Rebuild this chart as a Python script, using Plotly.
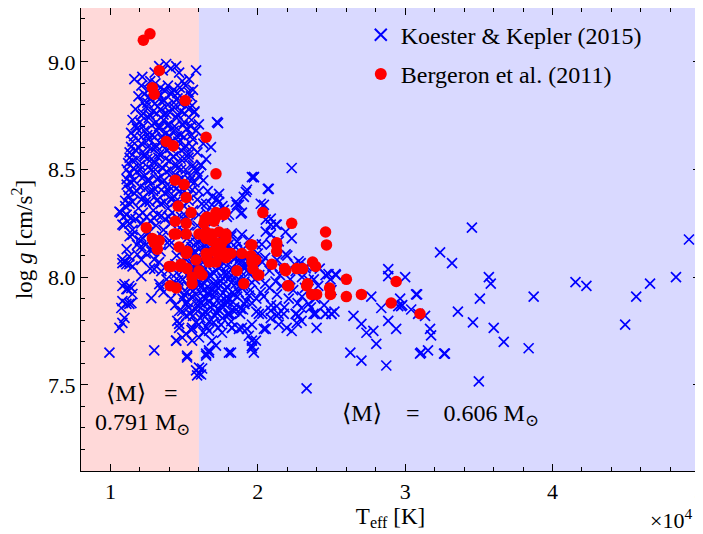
import plotly.graph_objects as go

# ---------------- data (Teff [K], log g) ----------------
# Koester & Kepler (2015) -- column of massive DBs (red zone)
kk_column = [
    (11620, 8.92), (12160, 8.93), (13310, 8.98), (13780, 8.99), (14460, 8.98), (15810, 8.96), (15340, 8.92),
    (14660, 8.95), (14870, 8.91), (13000, 8.95), (13550, 8.96), (14100, 8.97), (12700, 8.91),
    (12100, 8.89), (12550, 8.87), (13050, 8.90), (13400, 8.88), (13900, 8.89), (14300, 8.87), (14700, 8.88),
    (15100, 8.89), (15600, 8.87), (12300, 8.85),
    (11900, 8.84), (12700, 8.83), (13200, 8.84), (13650, 8.82), (14100, 8.85), (14550, 8.83), (15000, 8.82),
    (15450, 8.84), (12200, 8.81), (13900, 8.80),
    (11700, 8.78), (12400, 8.79), (12900, 8.77), (13400, 8.78), (13800, 8.76), (14300, 8.79), (14800, 8.77),
    (15300, 8.78), (15700, 8.77), (12100, 8.75),
    (11500, 8.73), (12000, 8.72), (12600, 8.74), (13100, 8.72), (13600, 8.73), (14000, 8.71), (14500, 8.74),
    (15000, 8.72), (15500, 8.73), (16000, 8.71),
    (11400, 8.67), (11800, 8.69), (12300, 8.68), (12800, 8.66), (13300, 8.69), (13800, 8.67), (14300, 8.68),
    (14750, 8.66), (15200, 8.69), (15800, 8.68),
    (11500, 8.63), (12100, 8.62), (12600, 8.64), (13100, 8.61), (13550, 8.64), (14050, 8.62), (14600, 8.63),
    (15100, 8.61), (15600, 8.64), (16300, 8.62),
    (11300, 8.58), (11700, 8.59), (12300, 8.57), (12800, 8.60), (13300, 8.57), (13800, 8.59), (14300, 8.56),
    (14800, 8.59), (15300, 8.57), (15900, 8.58),
    (11200, 8.53), (11500, 8.54), (12000, 8.52), (12500, 8.55), (13000, 8.53), (13500, 8.51), (14000, 8.54),
    (14500, 8.52), (15000, 8.55), (15600, 8.52), (16150, 8.52),
    (11300, 8.48), (11800, 8.49), (12300, 8.47), (12800, 8.50), (13300, 8.46), (13800, 8.49), (14300, 8.47),
    (14800, 8.50), (15400, 8.47), (15900, 8.49),
    (11100, 8.43), (11400, 8.44), (12000, 8.42), (12500, 8.45), (13000, 8.41), (13500, 8.44), (14000, 8.42),
    (14600, 8.45), (15100, 8.42), (15700, 8.44),
    (11200, 8.38), (11600, 8.39), (12200, 8.37), (12700, 8.40), (13200, 8.36), (13700, 8.39), (14200, 8.37),
    (14700, 8.40), (15300, 8.38), (15900, 8.36),
    (11000, 8.33), (11300, 8.34), (11900, 8.32), (12400, 8.35), (12900, 8.31), (13400, 8.34), (13900, 8.32),
    (14400, 8.35), (15000, 8.33), (15600, 8.31),
    (10700, 8.30), (11100, 8.29), (11700, 8.27), (12200, 8.30), (12700, 8.26), (13200, 8.29), (13700, 8.27),
    (14200, 8.30), (14800, 8.28), (15400, 8.26), (16000, 8.29),
    (10900, 8.24), (11500, 8.22), (12100, 8.25), (12600, 8.21), (13100, 8.24), (13600, 8.22), (14100, 8.25),
    (14700, 8.23), (15300, 8.21), (15900, 8.24),
    (11300, 8.19), (12000, 8.17), (12500, 8.20), (13000, 8.16), (13500, 8.19), (14000, 8.17), (14600, 8.20),
    (15200, 8.18), (15800, 8.16),
    (11100, 8.13), (11800, 8.15), (12400, 8.11), (12900, 8.14), (13400, 8.12), (14000, 8.15), (14500, 8.10),
    (15100, 8.13), (15700, 8.11),
    (11000, 8.07), (11500, 8.05), (12100, 8.08), (12700, 8.04), (13300, 8.07), (13900, 8.03), (14400, 8.06),
    (15000, 8.09), (15600, 8.05),
    (12800, 8.86), (13250, 8.855), (13700, 8.865), (14150, 8.86), (14550, 8.855), (15300, 8.86),
    (12500, 8.81), (13000, 8.805), (13450, 8.815), (14300, 8.81), (14750, 8.805), (15200, 8.80),
    (12200, 8.76), (12650, 8.755), (13150, 8.76), (13600, 8.755), (14050, 8.765), (14550, 8.755), (15050, 8.76),
    (11700, 8.705), (12200, 8.70), (12800, 8.705), (13300, 8.70), (13850, 8.705), (14350, 8.70), (14900, 8.705),
    (15450, 8.70),
    (11600, 8.655), (12100, 8.65), (12500, 8.66), (13000, 8.65), (13500, 8.655), (14000, 8.65), (14500, 8.655),
    (15000, 8.65), (15500, 8.66),
    (11400, 8.605), (11950, 8.60), (12550, 8.605), (13050, 8.60), (13550, 8.61), (14050, 8.60), (14550, 8.605),
    (15050, 8.60), (15550, 8.605),
    (11300, 8.555), (11800, 8.55), (12300, 8.56), (12800, 8.55), (13250, 8.555), (13750, 8.55), (14250, 8.56),
    (14750, 8.55), (15300, 8.555),
    (11100, 8.50), (11550, 8.505), (12050, 8.50), (12550, 8.51), (13050, 8.50), (13550, 8.505), (14050, 8.50),
    (14550, 8.505), (15100, 8.50), (15650, 8.505),
    (11100, 8.455), (11600, 8.45), (12150, 8.46), (12650, 8.45), (13150, 8.455), (13650, 8.45), (14250, 8.455),
    (14850, 8.46), (15400, 8.45),
    (11250, 8.405), (11800, 8.40), (12350, 8.41), (12900, 8.40), (13450, 8.405), (13950, 8.40), (14450, 8.41),
    (15000, 8.40), (15550, 8.405),
    (11000, 8.355), (11500, 8.35), (12100, 8.36), (12650, 8.35), (13150, 8.355), (13650, 8.35), (14150, 8.36),
    (14700, 8.35), (15300, 8.355),
    (10900, 8.28), (11400, 8.275), (11950, 8.285), (12450, 8.28), (12950, 8.275), (13450, 8.285), (13950, 8.28),
    (14500, 8.275), (15100, 8.285),
]

# Koester & Kepler (2015) -- main clump around 16000-20000 K
kk_core = [
    (16200, 8.18), (16700, 8.19), (17200, 8.17), (17700, 8.18), (18200, 8.19),
    (15500, 8.14), (16000, 8.13), (16500, 8.15), (17000, 8.14), (17500, 8.13), (18000, 8.15), (18500, 8.14),
    (19000, 8.13),
    (15300, 8.10), (15800, 8.09), (16300, 8.11), (16800, 8.10), (17300, 8.09), (17800, 8.11), (18300, 8.10),
    (18800, 8.09), (19400, 8.10), (20000, 8.11),
    (14800, 8.06), (15500, 8.07), (16000, 8.05), (16500, 8.06), (17000, 8.07), (17500, 8.05), (18000, 8.06),
    (18600, 8.07), (19100, 8.05), (19700, 8.06), (20300, 8.07),
    (14500, 8.02), (15200, 8.01), (15700, 8.03), (16200, 8.02), (16700, 8.01), (17200, 8.03), (17700, 8.02),
    (18200, 8.01), (18800, 8.03), (19400, 8.02), (20100, 8.01), (20800, 8.03),
    (14300, 7.98), (14900, 7.99), (15500, 7.97), (16000, 7.98), (16500, 7.99), (17000, 7.97), (17500, 7.98),
    (18000, 7.99), (18500, 7.97), (19100, 7.98), (19800, 7.99), (20500, 7.97), (21200, 7.98),
    (14600, 7.94), (15200, 7.93), (15800, 7.95), (16300, 7.94), (16800, 7.93), (17300, 7.95), (17800, 7.94),
    (18300, 7.93), (18900, 7.95), (19500, 7.94), (20200, 7.93),
    (14900, 7.90), (15500, 7.91), (16000, 7.89), (16500, 7.90), (17000, 7.91), (17500, 7.89), (18000, 7.90),
    (18600, 7.91), (19200, 7.89), (19900, 7.90),
    (15300, 7.86), (15800, 7.85), (16300, 7.87), (16800, 7.86), (17300, 7.85), (17800, 7.87), (18400, 7.86),
    (19000, 7.85),
    (15600, 7.82), (16100, 7.81), (16600, 7.83), (17100, 7.82), (17600, 7.81), (18100, 7.83),
    (16000, 7.78), (16500, 7.77), (17000, 7.79), (17500, 7.78),
    (16000, 8.16), (16900, 8.16), (17800, 8.155), (15700, 8.12), (16600, 8.125), (17400, 8.115), (18200, 8.12),
    (16100, 8.08), (17100, 8.075), (17900, 8.085), (18900, 8.075), (15600, 8.04), (16400, 8.04), (17300, 8.045),
    (18200, 8.035), (19100, 8.04), (15900, 8.00), (16800, 8.005), (17600, 7.995), (18500, 8.005), (16200, 7.96),
    (17100, 7.965), (17900, 7.955), (18800, 7.96), (15800, 7.92), (16600, 7.925), (17500, 7.915), (18400, 7.92),
    (16100, 7.88), (17000, 7.875), (17900, 7.885), (16400, 7.84), (17400, 7.845), (18400, 7.84),
    (13600, 7.93), (14100, 7.90), (14400, 7.87), (13800, 7.99), (14700, 7.96), (13400, 7.95),
    (15400, 8.165), (16400, 8.145), (17300, 8.155), (18600, 8.165),
    (15100, 8.085), (15900, 8.065), (16700, 8.085), (17600, 8.07), (18500, 8.09), (19300, 8.075),
    (14900, 8.03), (15500, 8.025), (16300, 8.005), (17000, 8.02), (17900, 8.015), (18900, 8.005), (19700, 8.03),
    (14600, 7.985), (15300, 7.955), (15900, 7.97), (16600, 7.955), (17300, 7.97), (18200, 7.975), (19000, 7.96),
    (19600, 7.975),
    (15000, 7.92), (15600, 7.935), (16300, 7.91), (17100, 7.93), (17900, 7.91), (18700, 7.93), (19400, 7.915),
    (15200, 7.885), (15900, 7.87), (16700, 7.885), (17500, 7.87), (18300, 7.885), (19100, 7.875),
    (15400, 7.83), (16300, 7.825), (17200, 7.835), (18000, 7.825), (18800, 7.83),
    (15800, 7.79), (16700, 7.795), (17300, 7.765), (18200, 7.795), (15500, 7.755), (16300, 7.745),
]

# Koester & Kepler (2015) -- hot tail 19500-25500 K
kk_tail = [
    (20500, 8.09), (21300, 8.08), (22000, 8.10), (21000, 8.05), (21700, 8.04), (22500, 8.06), (23300, 8.05),
    (24200, 8.04), (21500, 8.01), (22200, 7.99), (23000, 8.00), (23800, 7.99), (24600, 8.01), (25300, 8.01),
    (20800, 7.95), (21600, 7.96), (22400, 7.94), (23200, 7.95), (24100, 7.96), (25000, 7.94), (20400, 7.91),
    (21300, 7.92), (22100, 7.90), (23000, 7.91), (23900, 7.90), (20900, 7.87), (21800, 7.86), (22700, 7.88),
    (23600, 7.86), (24500, 7.87), (25200, 7.84), (20300, 7.83), (21400, 7.83), (22600, 7.83), (23900, 7.83),
    (24600, 7.83), (25000, 7.83), (19600, 7.88), (19900, 7.84),
]

# Koester & Kepler (2015) -- individual, isolated objects
kk_sparse = [
    (34530, 8.23), (32370, 8.115), (33180, 8.065), (30000, 8.00), (35680, 8.00), (35810, 7.97), (35070, 7.90),
    (30810, 7.92), (29660, 7.90), (29800, 7.87), (30410, 7.85), (31350, 7.82), (33580, 7.84), (31690, 7.76),
    (31760, 7.73), (34600, 7.79), (36010, 7.765), (31010, 7.645), (31550, 7.66), (32700, 7.645), (36690, 7.70),
    (38380, 7.67), (35000, 7.516), (38720, 7.91), (41560, 7.977), (42300, 7.96), (44930, 7.78), (45680, 7.91),
    (46620, 7.97), (48380, 8.00), (49260, 8.175), (23310, 7.484),
    (22300, 8.507), (19730, 8.465), (20680, 8.41), (20410, 8.336),
    (28850, 8.037), (28850, 8.005), (24800, 8.014), (25270, 8.014), (24930, 7.99), (22910, 8.065),
    (27700, 7.91), (28380, 7.857), (29530, 7.866), (30740, 7.92), (29730, 7.866),
    (26490, 7.82), (27030, 7.783), (27370, 7.742), (27840, 7.751), (28040, 7.69), (28850, 7.797), (29390, 7.76),
    (26280, 7.65), (27030, 7.613), (28720, 7.59), (31080, 7.65), (32640, 7.645), (30880, 7.83),
    (21280, 7.866), (21760, 7.83), (22570, 7.83), (22300, 7.75), (22970, 7.797), (23920, 7.83), (24600, 7.83),
    (25000, 7.83), (23990, 7.765), (20410, 7.76), (19600, 7.78), (19870, 7.705), (19600, 7.67),
    (18180, 7.65), (19730, 7.65), (19600, 7.68), (19390, 7.728), (19260, 7.76), (18720, 7.76), (18240, 7.765),
    (18040, 7.83), (18850, 7.853), (20070, 7.83), (20540, 7.76), (20880, 7.845), (20880, 7.81), (21420, 7.78),
    (21280, 7.82), (21960, 7.765), (22640, 7.788), (22770, 7.82), (22970, 7.857), (23450, 7.876),
    (23780, 7.83), (16690, 7.65), (16490, 7.636), (16220, 7.576), (16150, 7.548),
]

# Koester & Kepler (2015) -- lower-left and surroundings of the clump
kk_wings = [
    (9930, 7.65), (12970, 7.66), (15200, 7.627), (16010, 7.58), (15880, 7.544),
    (14460, 7.705), (14870, 7.72), (14660, 7.765), (14530, 7.797), (14870, 7.843), (15140, 7.876),
    (15540, 7.705), (16010, 7.72), (16690, 7.66),
    (10610, 7.765), (10810, 7.788), (10950, 7.811), (10740, 7.857), (11080, 7.876), (11420, 7.88),
    (11490, 7.922), (11150, 7.945), (11420, 7.949), (10950, 7.968), (12090, 8.005), (12770, 7.903),
    (13310, 7.968), (12970, 8.037), (13450, 8.028), (11280, 8.06), (10810, 8.065),
    (10610, 8.304), (11080, 8.29), (10810, 8.244), (11280, 8.249), (11490, 8.198), (12090, 8.189),
    (10810, 8.083), (11280, 8.097), (11080, 8.06), (11820, 8.106), (12090, 8.143), (12430, 8.152),
    (12770, 8.12), (12970, 8.083), (10810, 7.959), (11080, 7.945), (11280, 7.959), (10810, 7.889),
    (11280, 7.876),
    (14660, 7.843), (15140, 7.82), (14460, 7.705), (15200, 7.636), (15810, 7.567), (16010, 7.553),
    (16490, 7.645), (16890, 7.705), (17160, 7.682), (18040, 7.65), (16690, 7.751), (17570, 7.742),
    (18240, 7.765), (18920, 7.765), (19600, 7.705), (14660, 7.783), (15540, 7.765), (15140, 7.737),
    (17230, 8.72), (17300, 8.715), (16820, 8.604), (16490, 8.548), (16150, 8.52), (15810, 8.682),
    (15680, 8.765), (15540, 8.797), (19600, 8.465), (19190, 8.396), (19050, 8.373), (18510, 8.35),
    (18720, 8.336), (17370, 8.387), (17230, 8.364), (16890, 8.336), (18920, 8.30), (20880, 8.272),
    (21220, 8.244), (20540, 8.212), (20880, 8.198), (21890, 8.21), (22300, 8.18),
    (19730, 8.465), (19260, 8.406), (20740, 8.41), (18580, 8.336), (18850, 8.295), (20200, 8.341),
    (20540, 8.267), (20880, 8.244), (21280, 8.244), (16890, 8.373), (17370, 8.35), (16490, 8.341),
    (17700, 8.313), (18040, 8.29), (18240, 8.203), (18920, 8.198), (19390, 8.175), (19870, 8.152),
    (20270, 8.152), (20880, 8.152), (21420, 8.166), (21890, 8.106), (22770, 8.074), (23240, 8.041),
    (22570, 8.028), (23450, 7.986),
    (16300, 8.45), (16600, 8.40), (17600, 8.33), (17900, 8.28), (17000, 8.26), (16500, 8.30),
    (16200, 8.34), (16000, 8.40), (16000, 8.47),
]

# Bergeron et al. (2011)
bergeron = [
    (12230, 9.10), (12680, 9.13), (13310, 8.96), (12840, 8.88), (12970, 8.85), (15070, 8.82), (16490, 8.65),
    (13780, 8.63), (14260, 8.61), (17160, 8.48), (14390, 8.45), (15000, 8.43), (15140, 8.37), (14590, 8.33),
    (15470, 8.30), (17160, 8.30), (17770, 8.30), (20340, 8.30), (22300, 8.25), (12430, 8.23), (14390, 8.26),
    (15140, 8.25), (12840, 8.18), (13310, 8.17), (13180, 8.13), (14320, 8.20), (15140, 8.20), (16420, 8.27),
    (17030, 8.26), (16490, 8.18), (16890, 8.20), (17370, 8.21), (17840, 8.18), (19600, 8.15), (21280, 8.15),
    (24600, 8.21), (24660, 8.15),
    (14460, 8.20), (14660, 8.14), (15140, 8.11), (13990, 8.05), (14050, 7.96), (14460, 7.95), (14730, 8.05),
    (15540, 8.00), (15540, 7.97), (15200, 8.04), (16010, 8.03), (16220, 8.01), (16550, 8.09), (16690, 8.07),
    (17160, 8.07), (17370, 8.11), (17570, 8.12), (17840, 8.09), (18040, 8.11), (16490, 8.21), (17840, 8.20),
    (16890, 8.17), (17160, 8.16), (17570, 8.16), (16350, 8.25), (17160, 8.28), (17700, 8.29), (16550, 8.28),
    (18920, 8.11), (19530, 8.10), (19600, 8.07), (20070, 8.01), (19050, 7.97), (18580, 8.03), (19530, 8.15),
    (20950, 8.06), (21280, 8.16), (21280, 8.12), (21890, 8.03), (22100, 7.96), (22640, 8.04), (23040, 8.04),
    (23380, 7.97), (23650, 7.92), (23990, 7.92), (23720, 8.07), (23920, 8.05), (24870, 7.95), (24930, 7.92),
    (26010, 7.99), (26010, 7.91), (27030, 7.92), (29390, 7.98), (29050, 7.88), (31010, 7.83),
    (18180, 8.11), (17370, 8.13), (20000, 8.01), (19870, 8.08), (19660, 8.04), (21820, 8.04), (22030, 7.96),
    (23310, 7.96), (14120, 8.05), (14800, 8.06), (15810, 8.08), (16490, 8.11), (17030, 8.12), (15200, 8.12),
    (12970, 8.16), (16760, 8.19), (16010, 8.20),
]

x_ticks = [10000, 20000, 30000, 40000, 50000]
x_tick_labels = ["1", "2", "3", "4", "5"]
y_ticks = [7.5, 8.0, 8.5, 9.0]
y_tick_labels = ["7.5", "8.0", "8.5", "9.0"]
mass_boundary = 16000
x_range = [8000, 50010]
y_range = [7.1, 9.25]

# ---------------- figure ----------------
FONT = "Liberation Serif, DejaVu Serif, serif"
NB = "\u00a0"

kk_all = kk_column + kk_core + kk_tail + kk_sparse + kk_wings
kk_teff = [p[0] for p in kk_all]
kk_logg = [p[1] for p in kk_all]
b_teff = [p[0] for p in bergeron]
b_logg = [p[1] for p in bergeron]

fig = go.Figure()
fig.add_shape(type="rect", xref="x", yref="y", x0=x_range[0], x1=mass_boundary, y0=y_range[0], y1=y_range[1],
              fillcolor="rgba(255,0,0,0.15)", line_width=0, layer="below")
fig.add_shape(type="rect", xref="x", yref="y", x0=mass_boundary, x1=x_range[1], y0=y_range[0], y1=y_range[1],
              fillcolor="rgba(0,0,255,0.15)", line_width=0, layer="below")

fig.add_trace(go.Scatter(
    x=kk_teff, y=kk_logg, mode="markers", name="Koester & Kepler (2015)", legendgroup="a",
    marker=dict(symbol="x-thin", size=10, color="#0000ff", line=dict(width=1.7, color="#0000ff")),
))
fig.add_trace(go.Scatter(
    x=b_teff, y=b_logg, mode="markers", name="Bergeron et al. (2011)", legendgroup="b",
    marker=dict(symbol="circle", size=11.5, color="#ff0000", line=dict(width=0)),
))

ann_font = dict(family=FONT, size=24, color="black")
fig.add_annotation(x=12160, y=7.46, xref="x", yref="y", text="⟨M⟩" + NB * 3 + "=", showarrow=False,
                   font=ann_font)
fig.add_annotation(x=12160, y=7.32, xref="x", yref="y", text="0.791 M<sub>⊙</sub>", showarrow=False,
                   font=ann_font)
fig.add_annotation(x=32430, y=7.36, xref="x", yref="y",
                   text="⟨M⟩" + NB * 4 + "=" + NB * 4 + "0.606 M<sub>⊙</sub>", showarrow=False, font=ann_font)
fig.add_annotation(x=0.99, y=-0.104, xref="paper", yref="paper", xanchor="right", yanchor="middle",
                   text="×10<sup>4</sup>", showarrow=False, font=dict(family=FONT, size=22, color="black"))

axis_common = dict(showgrid=False, zeroline=False, showline=True, linecolor="black", linewidth=1.3,
                   mirror="allticks", ticks="inside", ticklen=7, tickwidth=1.2, tickcolor="black",
                   tickfont=dict(family=FONT, size=22, color="black"), automargin=False)

fig.update_xaxes(range=x_range, tickvals=x_ticks, ticktext=x_tick_labels, ticklabeloverflow="allow",
                 minor=dict(ticks="inside", dtick=2000, ticklen=4, tickwidth=1, tickcolor="black"),
                 title=dict(text="T<sub>eff</sub> [K]", font=dict(family=FONT, size=23, color="black"), standoff=2),
                 **axis_common)
fig.update_yaxes(range=y_range, tickvals=y_ticks, ticktext=y_tick_labels,
                 minor=dict(ticks="inside", dtick=0.1, ticklen=4, tickwidth=1, tickcolor="black"),
                 title=dict(text="log <i>g</i> [cm/s<sup>2</sup>]", font=dict(family=FONT, size=23, color="black"),
                            standoff=12),
                 **axis_common)

# the page adds an 8 px body margin, so the figure is sized to fit the remaining window
fig.update_layout(
    width=695, height=526,
    margin=dict(l=73, r=3, t=0, b=63, pad=0),
    paper_bgcolor="white", plot_bgcolor="white",
    font=dict(family=FONT, color="black"),
    legend=dict(x=0.452, y=0.99, xanchor="left", yanchor="top", bgcolor="rgba(0,0,0,0)",
                font=dict(family=FONT, size=24, color="black"), traceorder="grouped", tracegroupgap=5,
                itemsizing="constant"),
    showlegend=True,
)

fig.write_html("out.html")
